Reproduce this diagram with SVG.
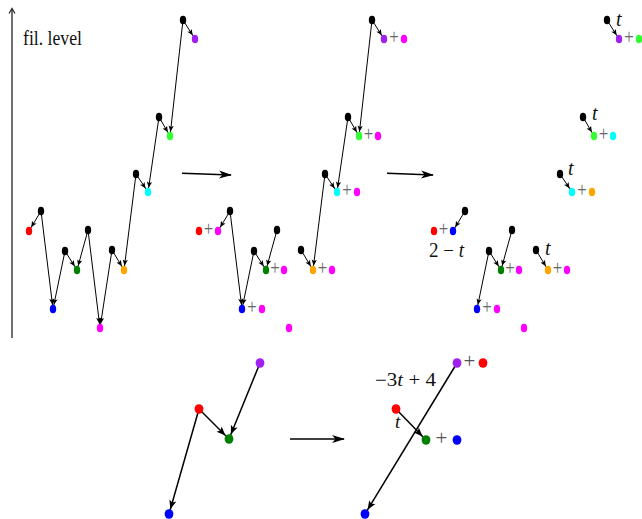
<svg xmlns="http://www.w3.org/2000/svg" width="642" height="519" viewBox="0 0 642 519">
<style>
.n{rx:3.2px;ry:4.3px}
.nb{rx:4.4px;ry:4.8px}
.k{fill:#000}.r{fill:#f00}.m{fill:#f0f}.bl{fill:#00f}.g{fill:#008000}.o{fill:#ffa500}.c{fill:#0ff}.lg{fill:#3f3}.p{fill:#a020f0}
.e{stroke:#000;stroke-width:1;marker-end:url(#ah)}
.eb{stroke:#000;stroke-width:1.5;marker-end:url(#ahb)}
.big{stroke:#000;stroke-width:1.5;marker-end:url(#ahl)}
.pl{font-family:"Liberation Serif",serif;font-size:20px;fill:#666;text-anchor:middle}
.plb{font-family:"Liberation Serif",serif;font-size:21px;fill:#555;text-anchor:middle}
.tx{font-family:"Liberation Serif",serif;fill:#111}
.it{font-style:italic}
</style>
<defs>
<marker id="ah" markerUnits="userSpaceOnUse" markerWidth="12" markerHeight="6" refX="10.3" refY="2.6" orient="auto" overflow="visible">
<path d="M0,0 L6,2.6 L0,5.2 L1.3,2.6 z" fill="#000"/>
</marker>
<marker id="ahb" markerUnits="userSpaceOnUse" markerWidth="16" markerHeight="8" refX="14" refY="3.6" orient="auto" overflow="visible">
<path d="M0,0 L9,3.6 L0,7.2 L2,3.6 z" fill="#000"/>
</marker>
<marker id="ahl" markerUnits="userSpaceOnUse" markerWidth="14" markerHeight="8" refX="12" refY="4" orient="auto" overflow="visible">
<path d="M0,0 L13,4 L0,8 L3.5,4 z" fill="#000"/>
</marker>
</defs>

<g id="axis">
<line x1="12" y1="338" x2="12" y2="9" stroke="#222" stroke-width="1.3"/>
<polyline points="9,13.5 12,8.5 15,13.5" fill="none" stroke="#222" stroke-width="1.2"/>
<text class="tx" x="23" y="44.5" font-size="21" textLength="59" lengthAdjust="spacingAndGlyphs">fil. level</text>
</g>

<g id="connectors">
<!-- panel 1 -->
<line class="e" x1="41" y1="211" x2="29" y2="231"/>
<line class="e" x1="41" y1="211" x2="53" y2="309"/>
<line class="e" x1="65" y1="251" x2="53" y2="309"/>
<line class="e" x1="65" y1="251" x2="77" y2="270"/>
<line class="e" x1="88" y1="230" x2="77" y2="270"/>
<line class="e" x1="88" y1="230" x2="100" y2="328"/>
<line class="e" x1="112" y1="250" x2="100" y2="328"/>
<line class="e" x1="112" y1="250" x2="124" y2="270"/>
<line class="e" x1="136" y1="174" x2="124" y2="270"/>
<line class="e" x1="136" y1="174" x2="148" y2="192"/>
<line class="e" x1="159" y1="117" x2="148" y2="192"/>
<line class="e" x1="159" y1="117" x2="170" y2="136"/>
<line class="e" x1="183" y1="20" x2="170" y2="136"/>
<line class="e" x1="183" y1="20" x2="195" y2="39"/>
<!-- panel 2 -->
<line class="e" x1="230" y1="211" x2="218" y2="231"/>
<line class="e" x1="230" y1="211" x2="242" y2="309"/>
<line class="e" x1="254" y1="251" x2="242" y2="309"/>
<line class="e" x1="254" y1="251" x2="266" y2="270"/>
<line class="e" x1="277" y1="230" x2="266" y2="270"/>
<line class="e" x1="301" y1="250" x2="313" y2="270"/>
<line class="e" x1="325" y1="174" x2="313" y2="270"/>
<line class="e" x1="325" y1="174" x2="337" y2="192"/>
<line class="e" x1="348" y1="117" x2="337" y2="192"/>
<line class="e" x1="348" y1="117" x2="359" y2="136"/>
<line class="e" x1="372" y1="20" x2="359" y2="136"/>
<line class="e" x1="372" y1="20" x2="384" y2="39"/>
<!-- panel 3 -->
<line class="e" x1="607" y1="20" x2="619" y2="39"/>
<line class="e" x1="583" y1="117" x2="594" y2="136"/>
<line class="e" x1="560" y1="174" x2="572" y2="192"/>
<line class="e" x1="465" y1="211" x2="453" y2="231"/>
<line class="e" x1="489" y1="251" x2="501" y2="270"/>
<line class="e" x1="489" y1="251" x2="477" y2="309"/>
<line class="e" x1="512" y1="230" x2="501" y2="270"/>
<line class="e" x1="536" y1="250" x2="548" y2="270"/>
<!-- bottom -->
<line class="eb" x1="260" y1="363" x2="229" y2="439"/>
<line class="eb" x1="199" y1="409" x2="229" y2="439"/>
<line class="eb" x1="199" y1="409" x2="169" y2="514"/>
<line class="eb" x1="457" y1="363" x2="365" y2="514"/>
<line class="eb" x1="396" y1="409" x2="426" y2="440"/>
<!-- transition arrows -->
<line class="big" x1="182" y1="173.3" x2="231" y2="175"/>
<line class="big" x1="387" y1="173.3" x2="433" y2="175"/>
<line class="big" x1="290" y1="439" x2="344" y2="439"/>
</g>

<!-- panel 1 nodes -->
<g id="p1-b1"><ellipse class="n k" cx="41" cy="211"/></g>
<g id="p1-b2"><ellipse class="n k" cx="65" cy="251"/></g>
<g id="p1-b3"><ellipse class="n k" cx="88" cy="230"/></g>
<g id="p1-b4"><ellipse class="n k" cx="112" cy="250"/></g>
<g id="p1-b5"><ellipse class="n k" cx="136" cy="174"/></g>
<g id="p1-b6"><ellipse class="n k" cx="159" cy="117"/></g>
<g id="p1-b7"><ellipse class="n k" cx="183" cy="20"/></g>
<g id="p1-red"><ellipse class="n r" cx="29" cy="231"/></g>
<g id="p1-blue"><ellipse class="n bl" cx="53" cy="309"/></g>
<g id="p1-green"><ellipse class="n g" cx="77" cy="270"/></g>
<g id="p1-magenta"><ellipse class="n m" cx="100" cy="328"/></g>
<g id="p1-orange"><ellipse class="n o" cx="124" cy="270"/></g>
<g id="p1-cyan"><ellipse class="n c" cx="148" cy="192"/></g>
<g id="p1-lime"><ellipse class="n lg" cx="170" cy="136"/></g>
<g id="p1-purple"><ellipse class="n p" cx="195" cy="39"/></g>

<!-- panel 2 nodes -->
<g id="p2-b1"><ellipse class="n k" cx="230" cy="211"/></g>
<g id="p2-b2"><ellipse class="n k" cx="254" cy="251"/></g>
<g id="p2-b3"><ellipse class="n k" cx="277" cy="230"/></g>
<g id="p2-b4"><ellipse class="n k" cx="301" cy="250"/></g>
<g id="p2-b5"><ellipse class="n k" cx="325" cy="174"/></g>
<g id="p2-b6"><ellipse class="n k" cx="348" cy="117"/></g>
<g id="p2-b7"><ellipse class="n k" cx="372" cy="20"/></g>
<g id="p2-red-magenta"><ellipse class="n r" cx="199" cy="231"/><text class="pl" x="208.5" y="236" textLength="9.5" lengthAdjust="spacingAndGlyphs">+</text><ellipse class="n m" cx="218" cy="231"/></g>
<g id="p2-blue-magenta"><ellipse class="n bl" cx="242" cy="309"/><text class="pl" x="252" y="314" textLength="9.5" lengthAdjust="spacingAndGlyphs">+</text><ellipse class="n m" cx="262" cy="309"/></g>
<g id="p2-green-magenta"><ellipse class="n g" cx="266" cy="270"/><text class="pl" x="275" y="275" textLength="9.5" lengthAdjust="spacingAndGlyphs">+</text><ellipse class="n m" cx="284" cy="270"/></g>
<g id="p2-magenta"><ellipse class="n m" cx="289" cy="328"/></g>
<g id="p2-orange-magenta"><ellipse class="n o" cx="313" cy="270"/><text class="pl" x="322.5" y="275" textLength="9.5" lengthAdjust="spacingAndGlyphs">+</text><ellipse class="n m" cx="332" cy="270"/></g>
<g id="p2-cyan-magenta"><ellipse class="n c" cx="337" cy="192"/><text class="pl" x="347" y="197" textLength="9.5" lengthAdjust="spacingAndGlyphs">+</text><ellipse class="n m" cx="357" cy="192"/></g>
<g id="p2-lime-magenta"><ellipse class="n lg" cx="359" cy="136"/><text class="pl" x="368.5" y="141" textLength="9.5" lengthAdjust="spacingAndGlyphs">+</text><ellipse class="n m" cx="378" cy="136"/></g>
<g id="p2-purple-magenta"><ellipse class="n p" cx="384" cy="39"/><text class="pl" x="394" y="44" textLength="9.5" lengthAdjust="spacingAndGlyphs">+</text><ellipse class="n m" cx="404" cy="39"/></g>

<!-- panel 3 nodes -->
<g id="p3-b7"><ellipse class="n k" cx="607" cy="20"/><text class="tx it" x="616" y="26" font-size="20">t</text></g>
<g id="p3-purple-lime"><ellipse class="n p" cx="619" cy="39"/><text class="pl" x="629" y="44" textLength="9.5" lengthAdjust="spacingAndGlyphs">+</text><ellipse class="n lg" cx="639" cy="39"/></g>
<g id="p3-b6"><ellipse class="n k" cx="583" cy="117"/><text class="tx it" x="592" y="119.5" font-size="20">t</text></g>
<g id="p3-lime-cyan"><ellipse class="n lg" cx="594" cy="136"/><text class="pl" x="603.5" y="141" textLength="9.5" lengthAdjust="spacingAndGlyphs">+</text><ellipse class="n c" cx="613" cy="136"/></g>
<g id="p3-b5"><ellipse class="n k" cx="560" cy="174"/><text class="tx it" x="568" y="174.5" font-size="20">t</text></g>
<g id="p3-cyan-orange"><ellipse class="n c" cx="572" cy="192"/><text class="pl" x="582" y="197" textLength="9.5" lengthAdjust="spacingAndGlyphs">+</text><ellipse class="n o" cx="592" cy="192"/></g>
<g id="p3-b1"><ellipse class="n k" cx="465" cy="211"/></g>
<g id="p3-red-blue"><ellipse class="n r" cx="434" cy="231"/><text class="pl" x="443.5" y="236" textLength="9.5" lengthAdjust="spacingAndGlyphs">+</text><ellipse class="n bl" cx="453" cy="231"/><text class="tx" x="429" y="257" font-size="20" textLength="35" lengthAdjust="spacingAndGlyphs">2 − <tspan class="it">t</tspan></text></g>
<g id="p3-b2"><ellipse class="n k" cx="489" cy="251"/></g>
<g id="p3-b3"><ellipse class="n k" cx="512" cy="230"/></g>
<g id="p3-green-magenta"><ellipse class="n g" cx="501" cy="270"/><text class="pl" x="510" y="275" textLength="9.5" lengthAdjust="spacingAndGlyphs">+</text><ellipse class="n m" cx="519" cy="270"/></g>
<g id="p3-blue-magenta"><ellipse class="n bl" cx="477" cy="309"/><text class="pl" x="487" y="314" textLength="9.5" lengthAdjust="spacingAndGlyphs">+</text><ellipse class="n m" cx="497" cy="309"/></g>
<g id="p3-magenta"><ellipse class="n m" cx="524" cy="328"/></g>
<g id="p3-b4"><ellipse class="n k" cx="536" cy="250"/><text class="tx it" x="545" y="255" font-size="20">t</text></g>
<g id="p3-orange-magenta"><ellipse class="n o" cx="548" cy="270"/><text class="pl" x="557.5" y="275" textLength="9.5" lengthAdjust="spacingAndGlyphs">+</text><ellipse class="n m" cx="567" cy="270"/></g>

<!-- bottom left -->
<g id="bl-purple"><ellipse class="nb p" cx="260" cy="363"/></g>
<g id="bl-red"><ellipse class="nb r" cx="199" cy="409"/></g>
<g id="bl-green"><ellipse class="nb g" cx="229" cy="439"/></g>
<g id="bl-blue"><ellipse class="nb bl" cx="169" cy="514"/></g>

<!-- bottom right -->
<g id="br-purple-red"><ellipse class="nb p" cx="457" cy="363"/><text class="plb" x="469.5" y="368.3">+</text><ellipse class="nb r" cx="483" cy="363"/><text class="tx" x="375" y="386" font-size="18" textLength="61" lengthAdjust="spacingAndGlyphs">−3<tspan class="it">t</tspan> + 4</text></g>
<g id="br-red"><ellipse class="nb r" cx="396" cy="409"/><text class="tx it" x="395" y="428" font-size="19">t</text></g>
<g id="br-green-blue"><ellipse class="nb g" cx="426" cy="440"/><text class="plb" x="441.5" y="445.3">+</text><ellipse class="nb bl" cx="457" cy="440"/></g>
<g id="br-blue"><ellipse class="nb bl" cx="365" cy="514"/></g>
</svg>
